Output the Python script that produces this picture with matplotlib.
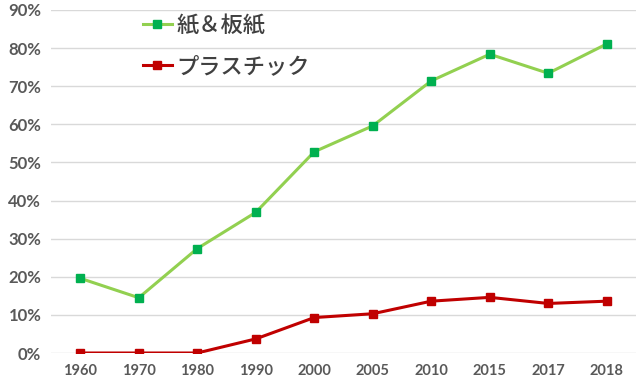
import matplotlib.pyplot as plt
from matplotlib.ticker import PercentFormatter

years = ['1960', '1970', '1980', '1990', '2000', '2005', '2010', '2015', '2017', '2018']
paper = [19.6, 14.5, 27.4, 36.9, 52.8, 59.6, 71.4, 78.4, 73.4, 81.1]
plastic = [0.0, 0.0, 0.0, 3.7, 9.3, 10.3, 13.6, 14.6, 13.0, 13.6]
series_names = ['紙＆板紙', 'プラスチック']

fig = plt.figure(figsize=(6.4, 3.81), dpi=100)
ax = fig.add_axes([51 / 640, 1 - 353 / 381, (636 - 51) / 640, (353 - 10) / 381])

x = list(range(len(years)))
ax.plot(x, paper, color='#92D050', lw=2.2, marker='s', ms=5.5,
        mfc='#00B050', mec='#00B050', label=series_names[0], zorder=3)
ax.plot(x, plastic, color='#C00000', lw=2.2, marker='s', ms=5.5,
        mfc='#C00000', mec='#C00000', label=series_names[1], zorder=3)

ax.set_xlim(-0.5, len(years) - 0.5)
ax.set_ylim(0, 90)
ax.set_yticks(range(0, 91, 10))
ax.yaxis.set_major_formatter(PercentFormatter(decimals=0))
ax.set_xticks(x)
ax.set_xticklabels(years)
ax.grid(axis='y', color='#D9D9D9', lw=1)
ax.set_axisbelow(True)
for s in ax.spines.values():
    s.set_visible(False)
ax.tick_params(length=0, colors='#595959')
for lab in ax.get_yticklabels():
    lab.set_fontfamily('Lato')
    lab.set_fontweight('bold')
    lab.set_fontsize(12)
for lab in ax.get_xticklabels():
    lab.set_fontfamily('Lato')
    lab.set_fontweight('bold')
    lab.set_fontsize(10.5)
ax.tick_params(axis='y', pad=7)
ax.tick_params(axis='x', pad=8)

leg = ax.legend(loc='upper left', bbox_to_anchor=(123 / 640, 1 + 6 / 381),
                bbox_transform=fig.transFigure, frameon=False,
                prop={'family': ['Noto Sans CJK JP', 'DejaVu Sans'], 'size': 16,
                      'weight': 'medium'},
                handlelength=1.3, handletextpad=0.2, labelspacing=0.8)
for t in leg.get_texts():
    t.set_color('#404040')

fig.savefig('out.png', dpi=100)
